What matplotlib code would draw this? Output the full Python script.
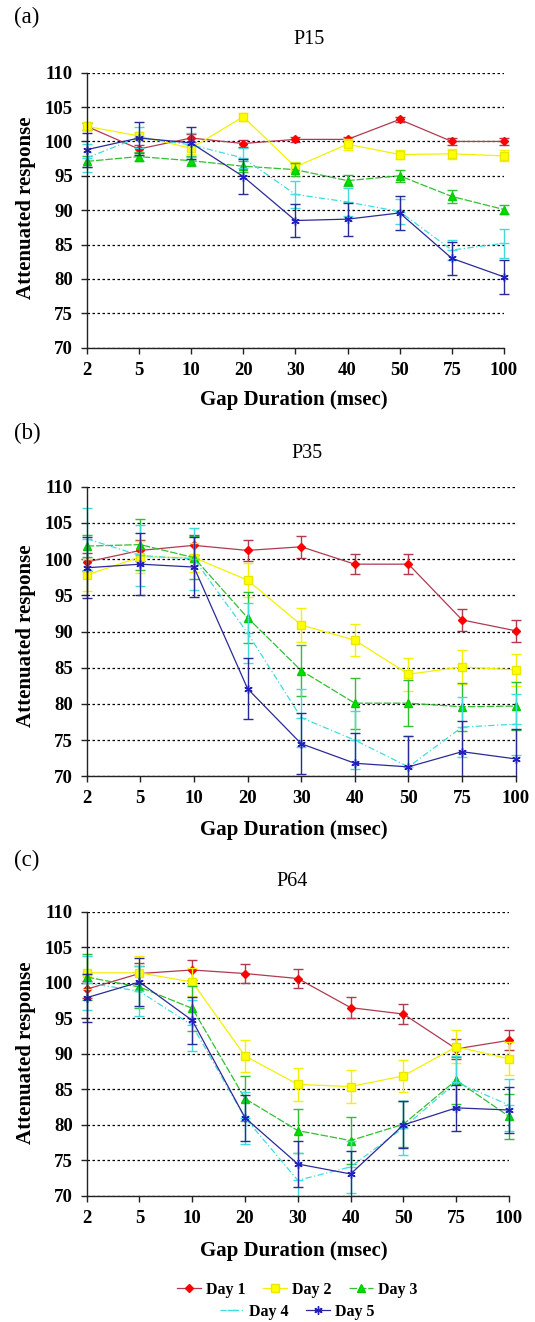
import matplotlib
matplotlib.use('Agg')
import matplotlib.pyplot as plt
from matplotlib.lines import Line2D
from matplotlib.patches import Rectangle

W, H = 535, 1322
plt.rcParams['font.family'] = ['Liberation Serif', 'DejaVu Serif']

gaps = ['2', '5', '10', '20', '30', '40', '50', '75', '100']
days = ['Day 1', 'Day 2', 'Day 3', 'Day 4', 'Day 5']
yticks = [70, 75, 80, 85, 90, 95, 100, 105, 110]

# P15
p15_day1 = [102.2, 98.9, 100.5, 99.7, 100.3, 100.3, 103.2, 100.0, 100.0]
p15_day2 = [102.2, 100.8, 99.0, 103.6, 96.3, 99.6, 98.1, 98.2, 97.9]
p15_day3 = [97.1, 97.8, 97.2, 96.4, 95.9, 94.3, 95.0, 92.0, 90.1]
p15_day4 = [97.6, 100.6, 99.5, 97.6, 92.3, 91.2, 89.8, 84.2, 85.2]
p15_day5 = [98.8, 100.5, 99.8, 94.9, 88.5, 88.7, 89.6, 83.0, 80.3]
p15_err1 = [0.5, 0.6, 0.6, 0.5, 0.4, 0.4, 0.4, 0.5, 0.5]
p15_err2 = [0.6, 0.6, 0.8, 0.6, 0.7, 0.8, 0.7, 0.7, 0.8]
p15_err3 = [0.8, 0.7, 0.7, 0.8, 0.9, 0.8, 0.9, 0.9, 0.7]
p15_err4 = [2.0, 1.5, 1.8, 1.5, 2.0, 2.0, 1.8, 1.5, 2.1]
p15_err5 = [2.5, 2.4, 2.3, 2.5, 2.4, 2.4, 2.5, 2.4, 2.5]

# P35
p35_day1 = [99.6, 101.2, 101.9, 101.2, 101.7, 99.3, 99.3, 91.6, 90.1]
p35_day2 = [97.8, 100.3, 100.2, 97.1, 90.9, 88.8, 84.1, 85.1, 84.7]
p35_day3 = [101.8, 102.0, 100.2, 91.9, 84.6, 80.1, 80.1, 79.6, 79.7]
p35_day4 = [102.8, 100.5, 100.0, 89.8, 78.1, 75.0, 71.3, 76.8, 77.2]
p35_day5 = [98.8, 99.3, 98.9, 82.1, 74.5, 71.8, 71.3, 73.4, 72.4]
p35_err1 = [1.2, 1.4, 1.4, 1.5, 1.5, 1.4, 1.4, 1.5, 1.5]
p35_err2 = [2.2, 2.2, 2.0, 2.4, 2.3, 2.2, 2.3, 2.3, 2.2]
p35_err3 = [1.5, 3.5, 3.0, 3.5, 3.5, 3.5, 3.2, 3.3, 3.3]
p35_err4 = [4.3, 4.2, 4.3, 4.2, 4.0, 4.0, 4.2, 4.2, 4.2]
p35_err5 = [4.2, 4.3, 4.2, 4.2, 4.2, 4.2, 4.2, 4.3, 4.2]

# P64
p64_day1 = [99.1, 101.3, 101.8, 101.3, 100.6, 96.5, 95.6, 90.7, 91.9]
p64_day2 = [101.4, 101.4, 100.1, 89.7, 85.7, 85.4, 86.9, 91.0, 89.3]
p64_day3 = [100.8, 99.4, 96.4, 83.7, 79.2, 77.8, 80.1, 86.3, 81.2]
p64_day4 = [100.0, 98.8, 94.0, 81.0, 72.2, 74.1, 79.6, 86.0, 82.8]
p64_day5 = [97.9, 100.1, 94.7, 81.0, 74.5, 73.1, 80.0, 82.4, 82.1]
p64_err1 = [1.2, 1.5, 1.4, 1.4, 1.4, 1.5, 1.4, 1.4, 1.4]
p64_err2 = [2.3, 2.3, 2.0, 2.2, 2.3, 2.3, 2.3, 2.3, 2.3]
p64_err3 = [3.2, 3.0, 3.2, 3.2, 3.1, 3.3, 3.2, 3.3, 3.2]
p64_err4 = [3.8, 3.5, 3.6, 3.7, 3.8, 3.7, 3.8, 3.7, 3.7]
p64_err5 = [3.4, 3.4, 3.3, 3.2, 3.3, 3.3, 3.3, 3.2, 3.3]

styles = [
    dict(color='#b03a50', mfc='#ff0000', mec='#ff0000', marker='D', ms=4.5, ls='-'),
    dict(color='#f2f200', mfc='#ffff00', mec='#e8e800', marker='s', ms=5.5, ls='-'),
    dict(color='#30c030', mfc='#00dd00', mec='#00cc00', marker='^', ms=6, ls=(0, (6, 1.5))),
    dict(color='#40dcdc', mfc='#40e0e0', mec='#40e0e0', marker='_', ms=7, ls=(0, (5, 2, 1, 2))),
    dict(color='#2a2a98', mfc='#2020c0', mec='#2020c0', marker=(6, 2, 0), ms=6, ls='-'),
]


def fx(px):
    return px / W


def fy(py):
    return 1 - py / H


fig = plt.figure(figsize=(W / 100, H / 100), dpi=100)


def draw_panel(box, tag, tag_y, title, title_xy, xlabel_y, ylabel_y, means, errs):
    l, r, t, b = box
    ax = fig.add_axes([fx(l), fy(b), (r - l) / W, (b - t) / H])
    x = list(range(len(gaps)))
    # let markers at the left/right ends show in full, but cut error bars at y=70
    clip = Rectangle((-0.05, 0), 1.1, 1.2, transform=ax.transAxes, visible=False)
    ax.add_patch(clip)
    for i, (m, e) in enumerate(zip(means, errs)):
        st = styles[i]
        cont = ax.errorbar(x, m, yerr=e, color=st['color'], ls=st['ls'], lw=0.9,
                           marker=st['marker'], ms=st['ms'], mfc=st['mfc'], mec=st['mec'],
                           ecolor=st['color'], elinewidth=1.0, capsize=3.5, capthick=1.0,
                           zorder=3 + i)
        line, caps, bars = cont.lines
        for a in [line, *caps, *bars]:
            a.set_clip_on(True)
            a.set_clip_path(clip)
    ax.set_xlim(0, 8)
    ax.set_ylim(70, 110)
    ax.set_xticks(x)
    ax.set_xticklabels(gaps)
    ax.set_yticks(yticks)
    ax.grid(axis='y', color='black', ls=(0, (2, 2)), lw=0.9, zorder=1)
    ax.set_axisbelow(True)
    for s in ['top', 'right']:
        ax.spines[s].set_visible(False)
    for s in ['left', 'bottom']:
        ax.spines[s].set_color('#222222')
        ax.spines[s].set_linewidth(1.0)
        ax.spines[s].set_zorder(10)
    ax.tick_params(direction='out', length=4, width=1, color='#222222', pad=6,
                   labelsize=13.5)
    for lab in ax.get_xticklabels() + ax.get_yticklabels():
        lab.set_fontweight('bold')
    fig.text(fx(14), fy(tag_y), tag, fontsize=16.5, ha='left', va='center')
    fig.text(fx(title_xy[0]), fy(title_xy[1]), title, fontsize=14.5, ha='center', va='center')
    fig.text(fx(294), fy(xlabel_y), 'Gap Duration (msec)', fontsize=15, fontweight='bold',
             ha='center', va='center')
    fig.text(fx(26), fy(ylabel_y), 'Attenuated response', fontsize=15, fontweight='bold',
             rotation=90, ha='center', va='center')
    return ax


draw_panel((86.7, 504, 72.7, 347.7), '(a)', 17, 'P15', (309, 39), 400, 208,
           [p15_day1, p15_day2, p15_day3, p15_day4, p15_day5],
           [p15_err1, p15_err2, p15_err3, p15_err4, p15_err5])
draw_panel((86.7, 515.7, 486.7, 776.3), '(b)', 433, 'P35', (307, 453), 830, 636,
           [p35_day1, p35_day2, p35_day3, p35_day4, p35_day5],
           [p35_err1, p35_err2, p35_err3, p35_err4, p35_err5])
draw_panel((86.7, 509, 911.7, 1196), '(c)', 860, 'P64', (292, 882), 1251, 1053,
           [p64_day1, p64_day2, p64_day3, p64_day4, p64_day5],
           [p64_err1, p64_err2, p64_err3, p64_err4, p64_err5])

handles = [Line2D([], [], color=st['color'], ls=st['ls'], lw=0.9, marker=st['marker'],
                  ms=st['ms'], mfc=st['mfc'], mec=st['mec']) for st in styles]
leg_kw = dict(loc='center', frameon=False, prop=dict(weight='bold', size=11.5),
              handlelength=1.5, handletextpad=0.3, columnspacing=1.1,
              borderaxespad=0, borderpad=0)
fig.legend(handles[:3], days[:3], bbox_to_anchor=(fx(297), fy(1290)), ncol=3, **leg_kw)
fig.legend(handles[3:], days[3:], bbox_to_anchor=(fx(297), fy(1312)), ncol=2, **leg_kw)

fig.savefig('out.png', dpi=100)
